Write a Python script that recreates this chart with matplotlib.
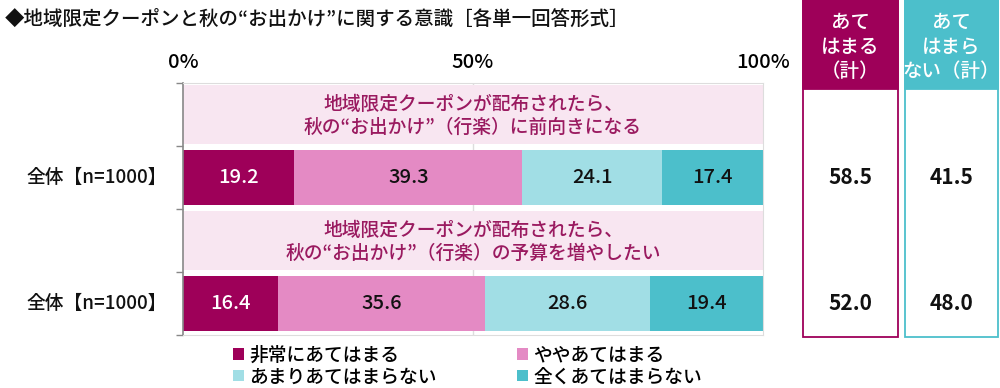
import matplotlib
matplotlib.use("Agg")
import matplotlib.pyplot as plt
from matplotlib.patches import Rectangle, Patch
from matplotlib.transforms import blended_transform_factory

plt.rcParams['font.family'] = ['Noto Sans CJK JP', 'DejaVu Sans']
plt.rcParams['font.weight'] = 'medium'

title = "◆地域限定クーポンと秋の“お出かけ”に関する意識［各単一回答形式］"
questions = ["地域限定クーポンが配布されたら、\n秋の“お出かけ”（行楽）に前向きになる",
             "地域限定クーポンが配布されたら、\n秋の“お出かけ”（行楽）の予算を増やしたい"]
row_labels = ["全体【n=1000】", "全体【n=1000】"]
series_names = ["非常にあてはまる", "ややあてはまる", "あまりあてはまらない", "全くあてはまらない"]
colors = ["#9E0059", "#E48AC4", "#A1DEE5", "#4CBFCB"]
values = [[19.2, 39.3, 24.1, 17.4],
          [16.4, 35.6, 28.6, 19.4]]
total_yes = [58.5, 52.0]
total_no = [41.5, 48.0]
xticks = [0, 50, 100]
xtick_labels = ["0%", "50%", "100%"]

band_color = "#F8E6F1"
qtext_color = "#9A1A60"

W, H = 1000, 388
fig = plt.figure(figsize=(W / 100, H / 100), dpi=100)
ax = fig.add_axes([183 / W, 1 - 335 / H, (763 - 183) / W, (335 - 83) / H])
ax.set_xlim(0, 100)
ax.set_ylim(4, 0)

for i, (q, vals) in enumerate(zip(questions, values)):
    yb = 2 * i + 0.5
    ax.barh(yb, 100, height=0.94, color=band_color, left=0, zorder=1)
    ax.text(50, yb + 0.02, q, ha='center', va='center', fontsize=13.5, color=qtext_color,
            linespacing=1.3, zorder=3)
    yv = 2 * i + 1.5
    left = 0
    for j, v in enumerate(vals):
        ax.barh(yv, v, left=left, height=0.86, color=colors[j], zorder=2)
        ax.text(left + v / 2, yv, f"{v:.1f}", ha='center', va='center', fontsize=14.5,
                color='white' if j == 0 else '#111111', zorder=3)
        left += v

ax.set_xticks(xticks)
ax.set_xticklabels(xtick_labels, fontsize=14.5)
ax.xaxis.tick_top()
ax.tick_params(axis='x', length=0, pad=8)
ax.set_yticks([0, 1, 2, 3, 4])
ax.set_yticklabels([])
ax.tick_params(axis='y', length=5, color='#888888', width=1)
ax.axvline(50, color='#DDDDDD', lw=1, zorder=0.5)
for s in ['top', 'right', 'bottom']:
    ax.spines[s].set_color('#DDDDDD')
ax.spines['left'].set_color('#888888')
ax.spines['left'].set_linewidth(1.2)

# row labels
for i, lab in enumerate(row_labels):
    ax.text(-2.8, 2 * i + 1.5, lab, ha='right', va='center', fontsize=13.5, color='#111111')

fig.text(5 / W, 1 - 19 / H, title, ha='left', va='center', fontsize=14, color='#111111')

# summary boxes
trans = blended_transform_factory(fig.transFigure, ax.transData)
boxes = [(803, 898, colors[0], "あて\nはまる\n（計）", total_yes),
         (905, 998, colors[3], "あて\nはまら\nない（計）", total_no)]
for x0, x1, c, head, tots in boxes:
    fx0, fx1 = x0 / W, x1 / W
    fig.patches.append(Rectangle((fx0, 1 - 337 / H), fx1 - fx0, 337 / H,
                                 transform=fig.transFigure, facecolor='white',
                                 edgecolor=c, lw=1.3, zorder=-2))
    fig.patches.append(Rectangle((fx0, 1 - 89 / H), fx1 - fx0, 89 / H,
                                 transform=fig.transFigure, facecolor=c,
                                 edgecolor=c, lw=1.3, zorder=-1))
    fig.text((fx0 + fx1) / 2, 1 - 47 / H, head, ha='center', va='center', fontsize=14,
             color='white', linespacing=1.38)
    for i, t in enumerate(tots):
        ax.text((fx0 + fx1) / 2, 2 * i + 1.5, f"{t:.1f}", transform=trans, ha='center',
                va='center', fontsize=15, fontweight='bold', color='#111111', clip_on=False)

handles = [Patch(facecolor=colors[k], label=series_names[k]) for k in [0, 2, 1, 3]]
leg = fig.legend(handles=handles, ncol=2, loc='center left',
                 bbox_to_anchor=(224 / W, 1 - 366 / H), frameon=False, fontsize=13.5,
                 handlelength=0.55, handleheight=0.55, handletextpad=0.3,
                 columnspacing=4.3, labelspacing=0.15, borderpad=0)

fig.savefig("out.png", dpi=100)
